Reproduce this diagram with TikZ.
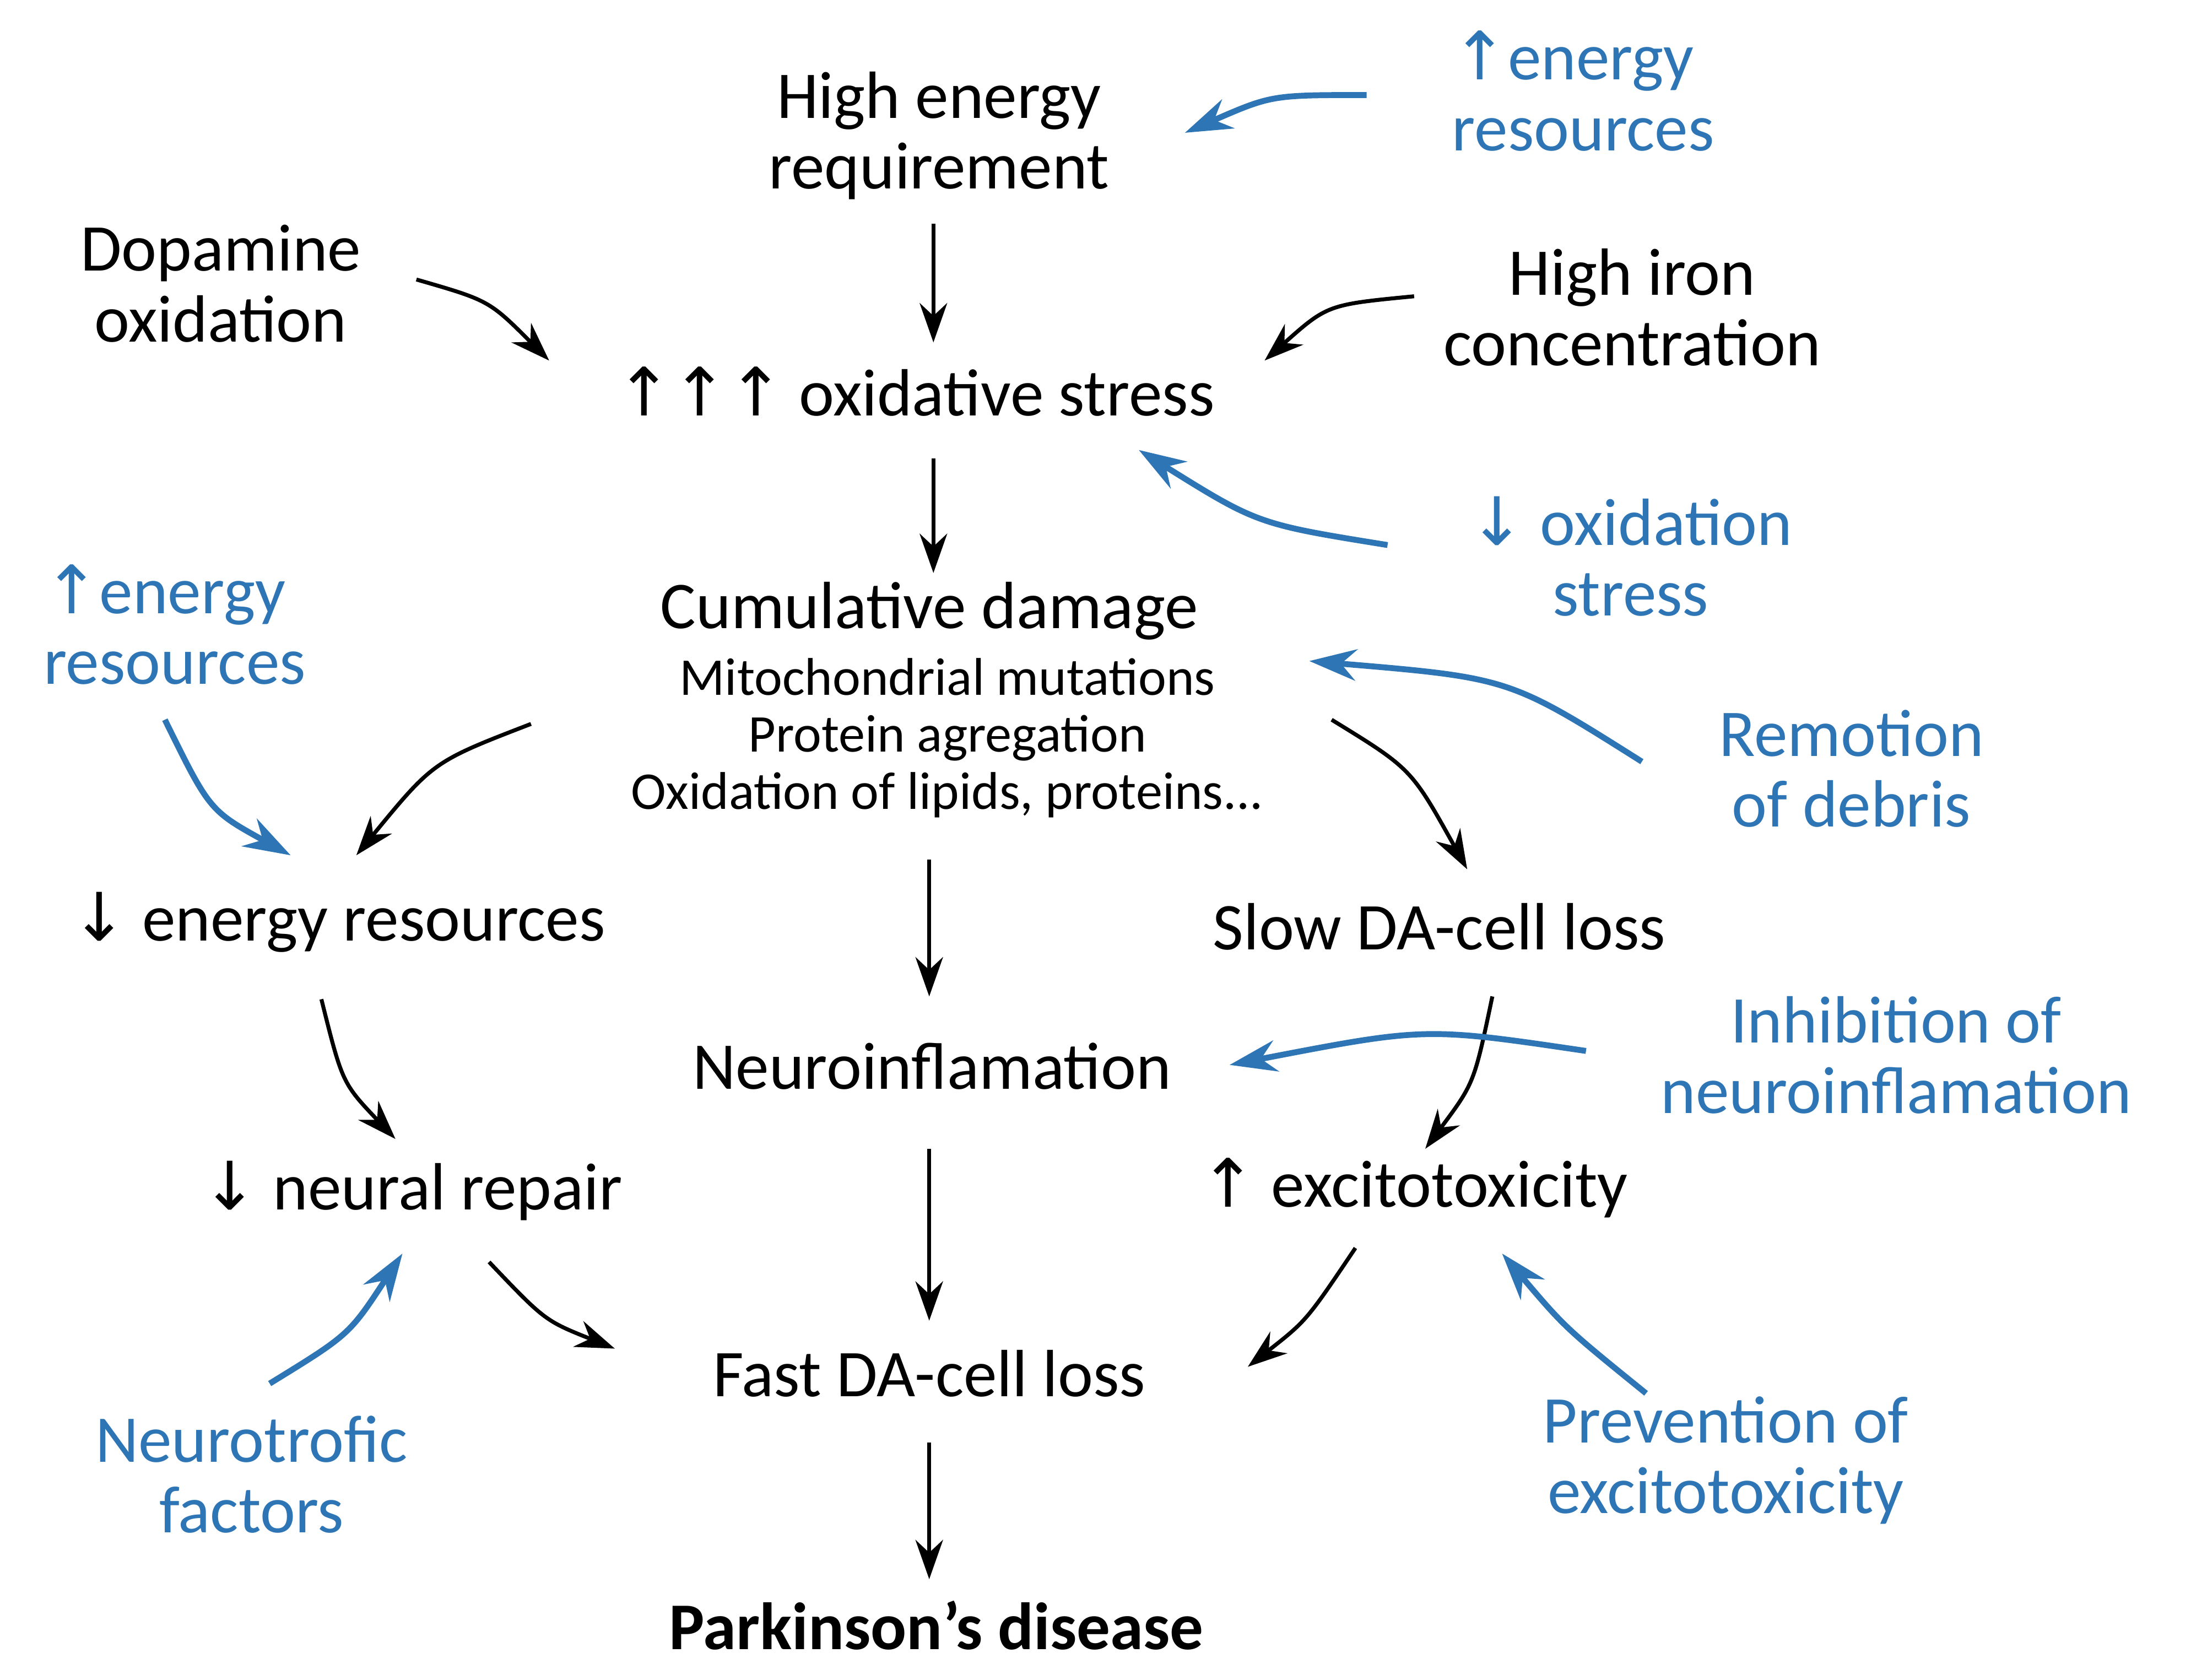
\documentclass[tikz,border=0pt]{standalone}
\usepackage{fontspec}
\setmainfont{Carlito}
\newfontfamily\arw{DejaVu Sans}
\newcommand{\UA}{{\arw ↑}}
\newcommand{\DA}{{\arw ↓}}
\usetikzlibrary{arrows.meta}
\definecolor{bl}{RGB}{46,117,182}
\begin{document}
\begin{tikzpicture}[x=0.025cm,y=-0.025cm,
 t/.style={font=\fontsize{34}{36}\selectfont,align=center,inner sep=0},
 s/.style={font=\fontsize{27}{29}\selectfont,align=center,inner sep=0},
 b/.style={t,text=bl},
 ba/.style={line width=2pt,-{Stealth[length=20pt,width=14pt]}},
 ua/.style={line width=3pt,bl,-{Stealth[length=24pt,width=16pt]}}]
\useasboundingbox (0,0) rectangle (1568,1202);
\node[t] (her) at (672,97) {High energy\\requirement};
\node[b,align=left] (er1) at (1133,65) {\UA energy\\resources};
\node[t] (dop) at (158,203) {Dopamine\\oxidation};
\node[t] (iron) at (1168,220) {High iron\\concentration};
\node[t] (ox) at (655,280) {\UA\UA\UA\ oxidative stress};
\node[b] (dox) at (1167,398) {\DA\ oxidation\\stress};
\node[t] (cum) at (665,437) {Cumulative damage};
\node[s] (cum2) at (678,528) {Mitochondrial mutations\\Protein agregation\\Oxidation of lipids, proteins...};
\node[b,align=left] (er2) at (125,447) {\UA energy\\resources};
\node[b] (rem) at (1325,550) {Remotion\\of debris};
\node[t] (der) at (242,660) {\DA\ energy resources};
\node[t] (slow) at (1030,663) {Slow DA-cell loss};
\node[t] (neu) at (667,763) {Neuroinflamation};
\node[b] (inh) at (1357,755) {Inhibition of\\neuroinflamation};
\node[t] (nr) at (295,852) {\DA\ neural repair};
\node[t] (exc) at (1012,850) {\UA\ excitotoxicity};
\node[t] (fast) at (665,983) {Fast DA-cell loss};
\node[b] (ntf) at (180,1055) {Neurotrofic\\factors};
\node[b] (prev) at (1235,1045) {Prevention of\\excitotoxicity};
\node[t,font=\fontsize{34}{36}\selectfont\bfseries] (pd) at (670,1163) {Parkinson’s disease};
% black arrows
\draw[ba] (668,160) -- (668,245);
\draw[ba] (298,200) .. controls (350,215) .. (393,258);
\draw[ba] (1012,212) .. controls (950,218) .. (905,258);
\draw[ba] (668,328) -- (668,410);
\draw[ba] (380,518) .. controls (310,545) .. (255,612);
\draw[ba] (953,515) .. controls (1010,550) .. (1050,622);
\draw[ba] (665,615) -- (665,713);
\draw[ba] (230,715) .. controls (245,775) .. (283,815);
\draw[ba] (1068,713) .. controls (1055,775) .. (1020,822);
\draw[ba] (665,822) -- (665,945);
\draw[ba] (350,903) .. controls (390,945) .. (440,965);
\draw[ba] (970,893) .. controls (935,945) .. (893,978);
\draw[ba] (665,1032) -- (665,1130);
% blue arrows
\draw[ua] (978,68) .. controls (910,68) .. (848,95);
\draw[ua] (993,390) .. controls (900,375) .. (815,322);
\draw[ua] (1175,545) .. controls (1080,485) .. (937,473);
\draw[ua] (118,515) .. controls (150,580) .. (208,612);
\draw[ua] (1135,752) .. controls (1020,735) .. (880,762);
\draw[ua] (193,990) .. controls (250,955) .. (288,897);
\draw[ua] (1178,997) .. controls (1120,950) .. (1075,897);
\end{tikzpicture}
\end{document}
